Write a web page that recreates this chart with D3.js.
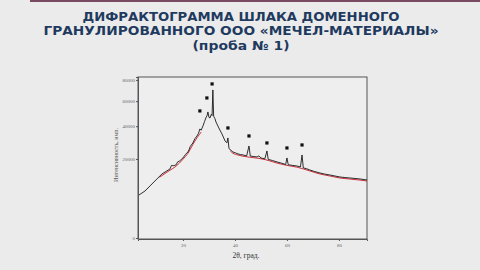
<!DOCTYPE html>
<html><head><meta charset="utf-8">
<script src="https://cdn.jsdelivr.net/npm/d3@7"></script>
<style>
html,body{margin:0;padding:0;background:#ebebeb;}
svg{display:block;}
</style></head>
<body>
<svg id="c" width="480" height="270"></svg>
<script>
const titleLines = ["ДИФРАКТОГРАММА ШЛАКА ДОМЕННОГО","ГРАНУЛИРОВАННОГО ООО «МЕЧЕЛ-МАТЕРИАЛЫ»","(проба № 1)"];
const xLabel = "2θ, град.";
const yLabel = "Интенсивность, имп.";
const xTicks = [20, 40, 60, 80];
const yTicks = [0, 20000, 40000, 60000, 80000];
// measured pattern: 2θ (deg) and intensity (counts)
const twoTheta = [3.1,5.4,7.3,9.6,11.9,13.5,15.0,15.6,16.2,17.3,18.0,18.5,20.0,21.0,21.9,22.4,22.8,23.8,24.6,25.4,26.0,26.5,27.0,27.7,28.3,28.8,29.3,29.6,30.0,30.4,30.9,31.2,31.5,31.8,32.3,32.7,33.8,35.0,36.2,36.9,37.3,37.7,39.2,40.2,41.2,42.2,43.1,44.5,45.4,45.9,47.0,48.5,49.2,50.0,51.5,52.3,52.8,54.5,56.2,58.0,59.5,60.0,60.5,62.0,63.8,65.2,65.8,66.3,67.5,68.8,70.5,72.7,74.5,76.5,78.5,80.4,82.3,84.2,86.2,88.1,90.8];
const intensity = [5925,7080,8665,10780,13130,14200,15260,16900,16700,17080,18600,18800,20510,22400,23700,25200,26800,28920,31600,33340,35200,38070,37200,40200,43400,46150,48200,50880,46600,46150,49000,48000,70200,47500,45600,43120,38780,34660,30150,29000,32050,25600,23700,23200,22610,22300,22080,21600,27120,21500,21300,21030,21600,20500,20100,24260,19800,19200,18510,17900,17300,20510,17200,16900,16610,16200,22080,15700,15400,14820,14200,13540,13100,12720,12300,11920,11700,11540,11350,11160,10780];
// smooth amorphous background (red fit); null = hidden under the measured trace
const bgTheta = [11.0,13.5,15.0,17.3,20.0,21.9,23.8,25.4,27.0,32.0,38.2,39.2,41.2,43.1,45.4,48.5,52.3,56.2,60.0,63.8,68.8,72.7,76.5,80.4,84.2,88.1,90.8];
const bgIntensity = [12100,13900,15000,16800,20200,23300,28400,32600,36400,null,24600,23400,22400,21800,21300,20800,19800,18300,17200,16400,14700,13400,12600,11800,11400,11000,10650];
// identified phase reflections (markers)
const markTheta = [26.5,29.2,31.2,37.3,45.4,52.3,60.0,65.8];
const markIntensity = [51700,62800,76000,38780,33340,28920,25960,27720];

const svg = d3.select("#c");
const W = 480, H = 270;
svg.append("rect").attr("width",W).attr("height",H).attr("fill","#ebebeb");
svg.append("rect").attr("x",30).attr("y",0).attr("width",450).attr("height",2).attr("fill","#7a4a60");

const title = svg.append("g").attr("font-family","DejaVu Sans, Verdana, sans-serif")
  .attr("font-weight","bold").attr("fill","#1f3a5f").attr("text-anchor","middle");
const tl = [317, 395, 97];
titleLines.forEach((t,i)=>{
  title.append("text").attr("x",241).attr("y",20.5+i*14.7).attr("font-size",12.2)
    .attr("textLength",tl[i]).attr("lengthAdjust","spacingAndGlyphs").text(t);
});

const m = {l:138, r:367, t:77, b:239};
const x = d3.scaleLinear().domain([2.7, 90.8]).range([m.l, m.r]);
const y = d3.scaleSqrt().domain([0, 83000]).range([m.b-1, m.t]);

const plot = svg.append("g");
plot.append("rect").attr("x",m.l).attr("y",m.t).attr("width",m.r-m.l).attr("height",m.b-m.t)
  .attr("fill","#eeeeee").attr("stroke","#555").attr("stroke-width",1);

const xa = svg.append("g").attr("transform",`translate(0,${m.b})`)
  .call(d3.axisBottom(x).tickValues(xTicks).tickSize(2).tickPadding(2));
const ya = svg.append("g").attr("transform",`translate(${m.l},0)`)
  .call(d3.axisLeft(y).tickValues(yTicks).tickFormat(d3.format("d")).tickSize(2).tickPadding(1));
[xa,ya].forEach(a=>{
  a.select(".domain").attr("stroke","#555");
  a.selectAll(".tick line").attr("stroke","#555");
  a.selectAll("text").attr("font-family","Liberation Serif, serif").attr("font-size",5).attr("fill","#666");
});

const bgLine = d3.line().defined((d,i)=>bgIntensity[i]!==null)
  .x((d,i)=>x(bgTheta[i])).y((d,i)=>y(bgIntensity[i])).curve(d3.curveMonotoneX);
plot.append("path").datum(bgTheta).attr("d",bgLine).attr("fill","none")
  .attr("stroke","#d0303a").attr("stroke-width",1).attr("transform","translate(0,0.7)");

const line = d3.line().x((d,i)=>x(twoTheta[i])).y((d,i)=>y(intensity[i]));
plot.append("path").datum(twoTheta).attr("d",line).attr("fill","none")
  .attr("stroke","#1a1a1a").attr("stroke-width",0.9);

plot.selectAll("rect.mk").data(markTheta).enter().append("rect").attr("class","mk")
  .attr("x",(d)=>x(d)-1.6).attr("y",(d,i)=>y(markIntensity[i])-1.6)
  .attr("width",3.2).attr("height",3.2).attr("fill","#111");

svg.append("text").attr("x",246).attr("y",258).attr("text-anchor","middle")
  .attr("font-family","Liberation Serif, serif").attr("font-size",7.5).attr("fill","#333").text(xLabel);
svg.append("text").attr("transform","translate(118,155) rotate(-90)").attr("text-anchor","middle")
  .attr("font-family","Liberation Serif, serif").attr("font-size",6).attr("fill","#555").text(yLabel);
</script>
</body></html>
